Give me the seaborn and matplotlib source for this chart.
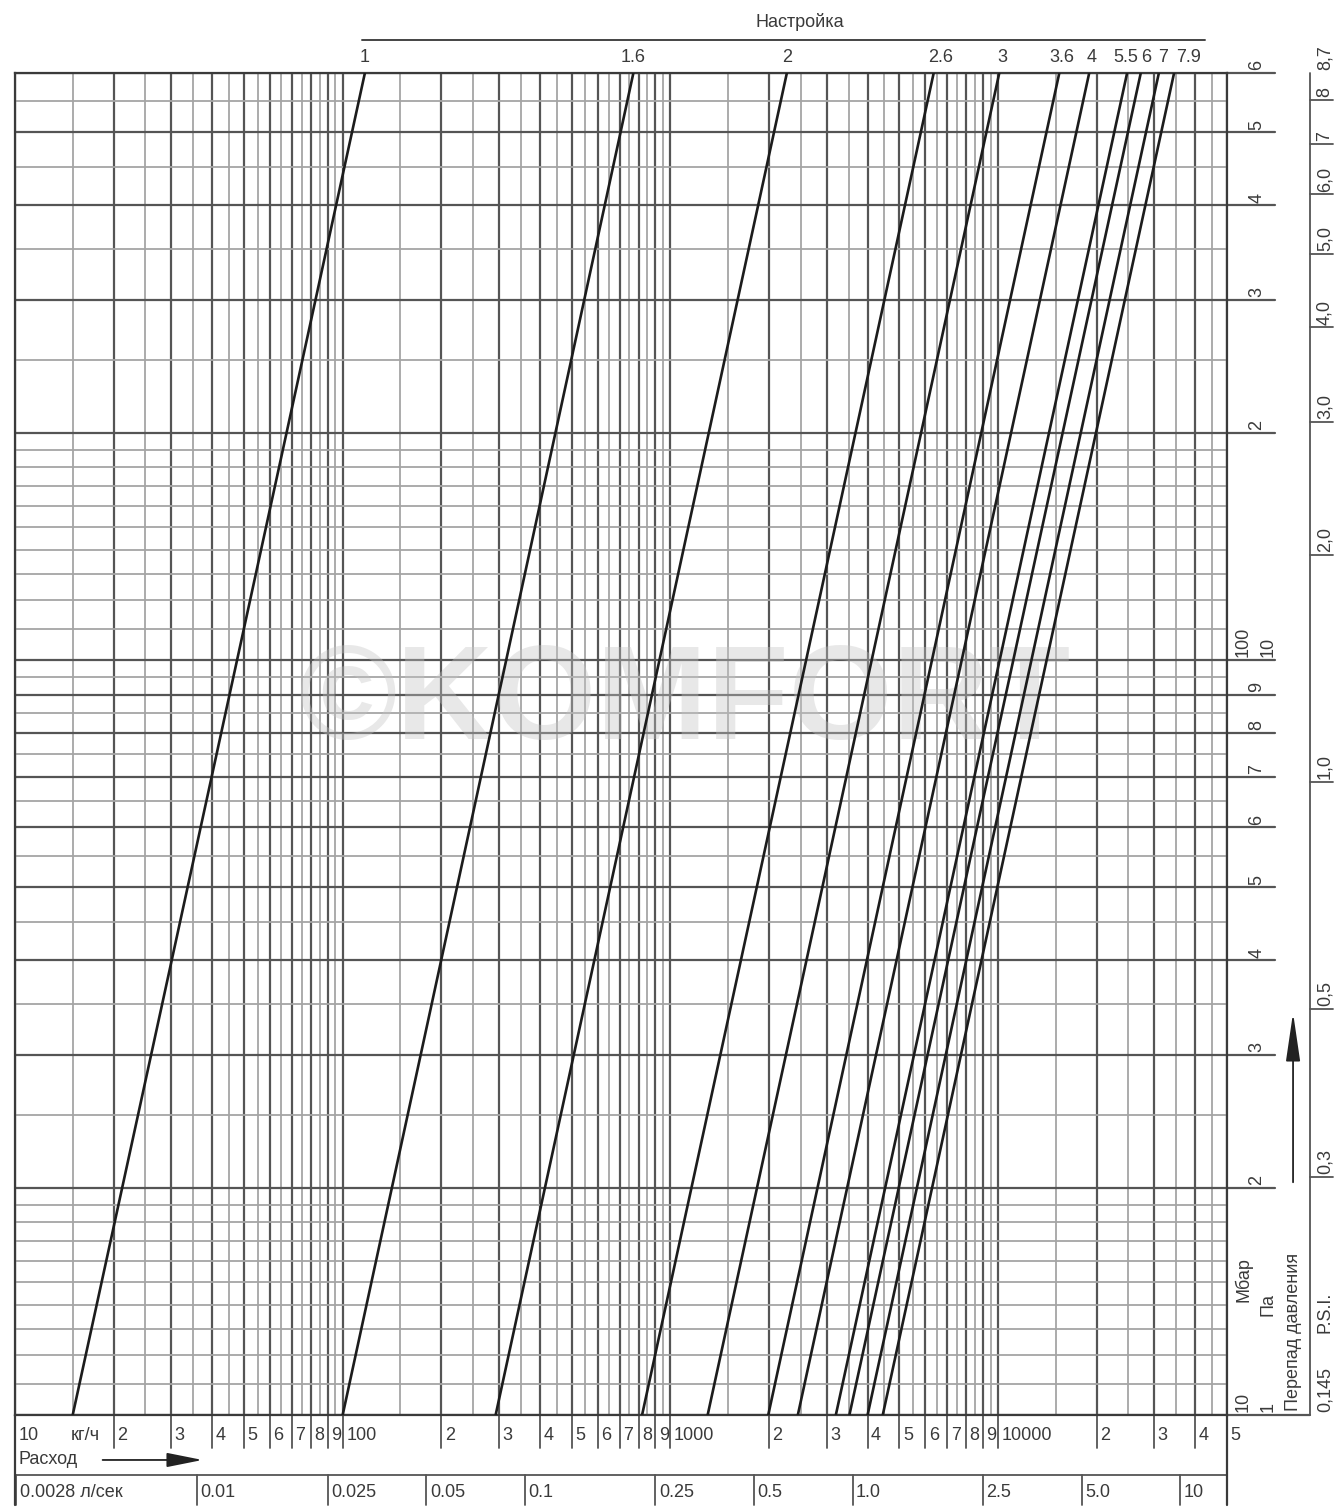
import numpy as np
import pandas as pd
import matplotlib
matplotlib.use("Agg")
import matplotlib.pyplot as plt
from matplotlib.ticker import LogLocator, NullFormatter
import seaborn as sns

# Valve settings and flow (kg/h) read at 10 mbar and at 600 mbar
settings = ["1", "1.6", "2", "2.6", "3", "3.6", "4", "5.5", "6", "7", "7.9"]
flow_low = [15, 100, 293, 820, 1300, 1990, 2450, 3200, 3520, 4000, 4450]
flow_high = [117, 772, 2270, 6370, 10100, 15400, 19000, 24800, 27300, 31000, 34500]
dp_low = 10
dp_high = 600

# bottom scale: flow in kg/h
kgh_ticks = [20, 30, 40, 50, 60, 70, 80, 90, 100,
             200, 300, 400, 500, 600, 700, 800, 900, 1000,
             2000, 3000, 4000, 5000, 6000, 7000, 8000, 9000, 10000,
             20000, 30000, 40000, 50000]
kgh_labels = ["2", "3", "4", "5", "6", "7", "8", "9", "100",
              "2", "3", "4", "5", "6", "7", "8", "9", "1000",
              "2", "3", "4", "5", "6", "7", "8", "9", "10000",
              "2", "3", "4", "5"]

# second bottom scale: flow in l/sec
lsec_ticks = [0.0028, 0.01, 0.025, 0.05, 0.1, 0.25, 0.5, 1.0, 2.5, 5.0, 10]
lsec_labels = ["0.0028 л/сек", "0.01", "0.025", "0.05", "0.1", "0.25",
               "0.5", "1.0", "2.5", "5.0", "10"]

# right scale: pressure drop in mbar
mbar_ticks = [20, 30, 40, 50, 60, 70, 80, 90, 200, 300, 400, 500]
mbar_labels = ["2", "3", "4", "5", "6", "7", "8", "9", "2", "3", "4", "5"]

# right scale: pressure drop in psi
psi_ticks = [0.145, 0.3, 0.5, 1.0, 2.0, 3.0, 4.0, 5.0, 6.0, 7, 8, 8.7]
psi_labels = ["0,145", "0,3", "0,5", "1,0", "2,0", "3,0", "4,0", "5,0",
              "6,0", "7", "8", "8,7"]

# label nudges for the crowded setting names (points)
setting_dx = [0, 0, 0, 5, 2, 2, 2, -1, 4, 3, 10]

rows = []
for s, lo, hi in zip(settings, flow_low, flow_high):
    rows.append({"setting": s, "flow": lo, "dp": dp_low})
    rows.append({"setting": s, "flow": hi, "dp": dp_high})
df = pd.DataFrame(rows)

sns.set_style("white")
plt.rcParams["font.family"] = ["Liberation Sans Narrow", "Liberation Sans", "DejaVu Sans"]
plt.rcParams["font.size"] = 13

TXT = "#3a3a3a"
MAJ = "#555555"
MIN = "#a5a5a5"

fig = plt.figure(figsize=(13.4, 15.08), dpi=100)
ax = fig.add_axes([15 / 1340, 93 / 1508, 1212 / 1340, 1342.5 / 1508])

sns.lineplot(data=df, x="flow", y="dp", units="setting", estimator=None,
             color="#1c1c1c", linewidth=1.9, ax=ax, zorder=4)

ax.set_xscale("log")
ax.set_yscale("log")
ax.set_xlim(10, 50000)
ax.set_ylim(10, 600)
ax.set_xlabel("")
ax.set_ylabel("")

# grid through log locators
ax.xaxis.set_major_locator(LogLocator(base=10, subs=np.arange(1, 10)))
ax.xaxis.set_minor_locator(LogLocator(base=10, subs=np.arange(1.5, 10, 1.0)))
ax.yaxis.set_major_locator(LogLocator(base=10, subs=np.arange(1, 10)))
ax.yaxis.set_minor_locator(LogLocator(base=10, subs=[1.1, 1.2, 1.3, 1.4, 1.5, 1.6, 1.7, 1.8, 1.9,
                                                     2.5, 3.5, 4.5, 5.5, 6.5, 7.5, 8.5, 9.5]))
for axis in (ax.xaxis, ax.yaxis):
    axis.set_major_formatter(NullFormatter())
    axis.set_minor_formatter(NullFormatter())
ax.tick_params(which="both", length=0)
ax.grid(which="major", color=MAJ, linewidth=1.6, zorder=1)
ax.grid(which="minor", color=MIN, linewidth=1.3, zorder=1)
ax.set_axisbelow(True)
for sp in ax.spines.values():
    sp.set_color("#3a3a3a")
    sp.set_linewidth(1.6)

tx = ax.get_xaxis_transform()
ty = ax.get_yaxis_transform()

# watermark
ax.text(0.553, 0.529, "©KOMFORT", transform=ax.transAxes, fontsize=96,
        fontweight="bold", family="Liberation Sans", color="#c4c4c4",
        alpha=0.38, ha="center", va="center", zorder=3)

# setting names on top
for s, hi, dx in zip(settings, flow_high, setting_dx):
    ax.annotate(s, xy=(hi, 1.0115), xycoords=tx, xytext=(dx, 0),
                textcoords="offset points", ha="center", va="center", color=TXT)
ax.plot([0.2863, 0.9818], [1.0242, 1.0242], transform=ax.transAxes,
        clip_on=False, color="#444444", lw=1.4)
ax.text(0.6477, 1.0376, "Настройка", transform=ax.transAxes,
        ha="center", va="center", color=TXT)

# bottom kg/h scale
for v, lab in zip(kgh_ticks, kgh_labels):
    if v < 50000:
        ax.plot([v, v], [0, -0.0246], transform=tx, clip_on=False, color=MAJ, lw=1.3)
    ax.annotate(lab, xy=(v, -0.0149), xycoords=tx, xytext=(2.5, 0),
                textcoords="offset points", ha="left", va="center", color=TXT)
ax.annotate("10", xy=(10, -0.0149), xycoords=tx, xytext=(2.5, 0),
            textcoords="offset points", ha="left", va="center", color=TXT)
ax.text(0.046, -0.0149, "кг/ч", transform=ax.transAxes, ha="left", va="center", color=TXT)
ax.text(0.0025, -0.0335, "Расход", transform=ax.transAxes, ha="left", va="center", color=TXT)
ax.annotate("", xy=(0.157, -0.0335), xytext=(0.07, -0.0335), xycoords="axes fraction",
            arrowprops=dict(arrowstyle="-|>,head_length=1.1,head_width=0.22",
                            color="#222222", lw=1.3, mutation_scale=20))

# bottom l/sec scale
ax.plot([0, 1], [-0.0447, -0.0447], transform=ax.transAxes, clip_on=False, color=MAJ, lw=1.3)
for v, lab in zip(lsec_ticks, lsec_labels):
    ax.plot([v * 3600, v * 3600], [-0.0447, -0.067], transform=tx, clip_on=False,
            color=MAJ, lw=1.3)
    ax.annotate(lab, xy=(v * 3600, -0.0574), xycoords=tx, xytext=(2.5, 0),
                textcoords="offset points", ha="left", va="center", color=TXT)
ax.plot([0, 0], [0, -0.067], transform=ax.transAxes, clip_on=False, color="#3a3a3a", lw=1.6)
ax.plot([1, 1], [0, -0.067], transform=ax.transAxes, clip_on=False, color="#3a3a3a", lw=1.6)

# right mbar / Pa scale
for v, lab in zip(mbar_ticks, mbar_labels):
    ax.plot([1, 1.0396], [v, v], transform=ty, clip_on=False, color=MAJ, lw=1.6)
    ax.annotate(lab, xy=(1.0248, v), xycoords=ty, xytext=(0, 2), textcoords="offset points",
                rotation=90, ha="center", va="bottom", color=TXT)
ax.plot([1, 1.0396], [100, 100], transform=ty, clip_on=False, color=MAJ, lw=1.6)
ax.plot([1, 1.0396], [600, 600], transform=ty, clip_on=False, color=MAJ, lw=1.6)
ax.plot([1, 1.0685], [10, 10], transform=ty, clip_on=False, color=MAJ, lw=1.6)
for x, lab in [(1.0132, "100"), (1.0338, "10")]:
    ax.annotate(lab, xy=(x, 100), xycoords=ty, xytext=(0, 2), textcoords="offset points",
                rotation=90, ha="center", va="bottom", color=TXT)
for x, lab in [(1.0132, "10"), (1.0338, "1")]:
    ax.annotate(lab, xy=(x, 10), xycoords=ty, xytext=(0, 2), textcoords="offset points",
                rotation=90, ha="center", va="bottom", color=TXT)
ax.annotate("6", xy=(1.0248, 600), xycoords=ty, xytext=(0, 2), textcoords="offset points",
            rotation=90, ha="center", va="bottom", color=TXT)
ax.text(1.0132, 0.1006, "Мбар", transform=ax.transAxes, rotation=90,
        ha="center", va="center", color=TXT)
ax.text(1.0338, 0.082, "Па", transform=ax.transAxes, rotation=90,
        ha="center", va="center", color=TXT)
ax.text(1.0545, 0.003, "Перепад давления", transform=ax.transAxes, rotation=90,
        ha="center", va="bottom", color=TXT)
ax.annotate("", xy=(1.0545, 0.3017), xytext=(1.0545, 0.1713), xycoords="axes fraction",
            arrowprops=dict(arrowstyle="-|>,head_length=1.5,head_width=0.22",
                            color="#222222", lw=1.3, mutation_scale=20))

# right psi scale
ax.plot([1.0685, 1.0685], [10, 600], transform=ty, clip_on=False, color=MAJ, lw=1.3)
for v, lab in zip(psi_ticks, psi_labels):
    mb = v * 68.95
    if 0.2 < v < 8.5:
        ax.plot([1.0685, 1.0875], [mb, mb], transform=ty, clip_on=False, color=MAJ, lw=1.3)
    ax.annotate(lab, xy=(1.0809, mb), xycoords=ty, xytext=(0, 2), textcoords="offset points",
                rotation=90, ha="center", va="bottom", color=TXT)
ax.text(1.0809, 0.0767, "P.S.I.", transform=ax.transAxes, rotation=90,
        ha="center", va="center", color=TXT)

fig.savefig("out.png", dpi=100, facecolor="white")
